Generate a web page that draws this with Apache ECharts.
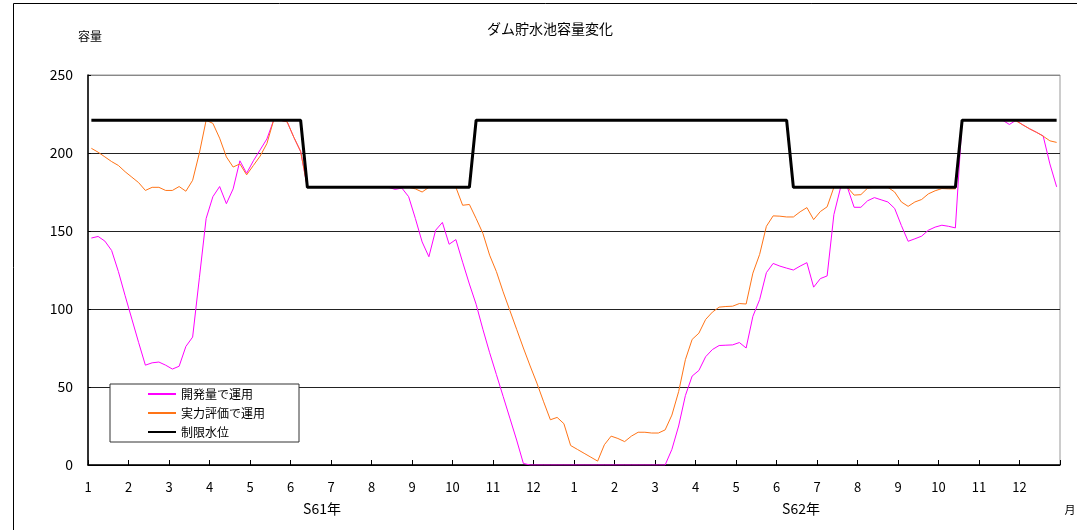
<!DOCTYPE html>
<html>
<head>
<meta charset="utf-8">
<script src="https://cdn.jsdelivr.net/npm/echarts@6/dist/echarts.min.js"></script>
<style>
html,body{margin:0;padding:0;background:#fff;}
#chart{width:1077px;height:530px;}
</style>
</head>
<body>
<div id="chart"></div>
<script>
// 5-day (半旬) periods: 6 per month, 24 months (S61 Jan - S62 Dec)
const monthLabels = ['1','2','3','4','5','6','7','8','9','10','11','12','1','2','3','4','5','6','7','8','9','10','11','12'];
const yearLabels = ['S61年', 'S62年'];
const seriesNames = ['開発量で運用', '実力評価で運用', '制限水位'];

const kaihatsu = [
  145.5,146.5,143.5,137.5,124,108.5,93.5,78.5,64,65.5,66,64,61.5,63.3,76,82,
  120,158,172,178.5,167.5,177,195,187,195,202,209,221,221,220,210,201,
  178,178,178,178,178,178,178,178,178,178,178,178,178,176.7,177.5,172,
  158,143,133.5,150.5,155.5,141.5,144.5,130,116,103,87,72,58,44,30,16,
  1,0,0,0,0,0,0,0,0,0,0,0,0,0,0,0,0,0,0,0,0,0,
  10,25,44.5,57,60.6,69.4,74,76.6,76.8,77,78.5,75,95.3,106,123.3,129.2,
  127.5,126.2,125,127.5,129.7,114,119.5,121.2,160.5,178,178,165.2,165.2,169.4,171.4,170,
  168.6,164.5,153.5,143.4,145,146.7,150.5,152.5,153.7,153,152,
  221,221,221,221,221,221,221,218.3,221,218,215.5,213.3,211,193,178.3
];

const jitsuryoku = [
  203,200.5,197.5,194.5,192,188,184.5,181,176,178,178,176,176,178.5,175.5,182.5,
  200,221,219,209.5,197.5,191,193,186,192,198,206,221,221,220,210,201,
  178,178,178,178,178,178,178,178,178,178,178,178,178,178,178,178,
  177,175,178,178,178,178,178,166.5,167,158,148.5,134.5,124,111,99,87,
  75,63.5,52.5,40.5,29,30.5,26.5,12.5,10,7.5,5,2.5,13,18.5,17,15,18.5,21,21,20.5,20.5,22.5,
  32,47,67.5,80.5,84.5,93.3,98,101.2,101.6,101.8,103.5,103.2,123,135,153,159.7,
  159.5,159,159,162.3,165,157.3,162.5,165.5,178,178,178,173,173.3,177.5,178,178,
  178,175,168.6,165.8,168.6,170.2,173.8,175.8,177.2,177,177,
  221,221,221,221,221,221,221,221,220.5,218,215.5,213.3,210.8,207.8,206.8
];

const seigen = [
  221,221,221,221,221,221,221,221,221,221,221,221,221,221,221,221,
  221,221,221,221,221,221,221,221,221,221,221,221,221,221,221,221,
  178,178,178,178,178,178,178,178,178,178,178,178,178,178,178,178,
  178,178,178,178,178,178,178,178,178,221,221,221,221,221,221,221,
  221,221,221,221,221,221,221,221,221,221,221,221,221,221,221,221,221,221,221,221,221,221,
  221,221,221,221,221,221,221,221,221,221,221,221,221,221,221,221,
  221,221,178,178,178,178,178,178,178,178,178,178,178,178,178,178,
  178,178,178,178,178,178,178,178,178,178,178,
  221,221,221,221,221,221,221,221,221,221,221,221,221,221,221
];

const yTicks = { min: 0, max: 250, interval: 50 };

function toXY(arr) { return arr.map((v, i) => [(i + 0.5) / 6, v]); }

const FONT = '"Noto Sans CJK JP", "Noto Sans", sans-serif';
const chart = echarts.init(document.getElementById('chart'), null, { renderer: 'canvas' });

chart.setOption({
  animation: false,
  backgroundColor: '#fff',
  textStyle: { fontFamily: FONT, color: '#000' },
  title: {
    text: 'ダム貯水池容量変化',
    left: 545, top: 17, textAlign: 'center',
    textStyle: { fontFamily: FONT, fontSize: 14, fontWeight: 'normal', color: '#000' }
  },
  grid: { left: 88, right: 17, top: 75, bottom: 65, show: true, borderColor: '#999', borderWidth: 1 },
  legend: {
    orient: 'vertical',
    left: 110, top: 384,
    padding: [4, 34, 4, 37],
    itemWidth: 28, itemHeight: 14, itemGap: 7,
    backgroundColor: '#fff',
    borderColor: '#333', borderWidth: 1,
    itemStyle: { opacity: 0 },
    textStyle: { fontFamily: FONT, fontSize: 12, color: '#000' },
    data: seriesNames
  },
  xAxis: {
    type: 'value', min: 0, max: 24, interval: 1,
    axisLine: { show: true, onZero: false, lineStyle: { color: '#000', width: 1.5 } },
    axisTick: { show: true, inside: true, length: 5, lineStyle: { color: '#000' } },
    axisLabel: {
      margin: 16, fontSize: 13, color: '#000', fontFamily: FONT,
      formatter: v => (v < 24 ? monthLabels[v] : '')
    },
    splitLine: { show: false }
  },
  yAxis: {
    type: 'value', min: yTicks.min, max: yTicks.max, interval: yTicks.interval,
    axisLine: { show: true, lineStyle: { color: '#000', width: 1.5 } },
    axisTick: { show: true, inside: true, length: 3, lineStyle: { color: '#000' } },
    axisLabel: { margin: 15, fontSize: 14, color: '#000', fontFamily: FONT },
    splitLine: { show: true, lineStyle: { color: ['#000', '#222', '#222', '#222', '#222', '#888'], width: 1 } }
  },
  graphic: [
    { type: 'rect', shape: { x: 13.5, y: 3.5, width: 1100, height: 600 }, style: { fill: 'none', stroke: '#000', lineWidth: 1 }, silent: true, z: 100 },
    { type: 'text', left: 78, top: 30, style: { text: '容量', fontSize: 12, fontFamily: FONT, fill: '#000' } },
    { type: 'text', x: 322, y: 509, style: { text: yearLabels[0], fontSize: 14, fontFamily: FONT, fill: '#000', textAlign: 'center', textVerticalAlign: 'middle' } },
    { type: 'text', x: 801, y: 509, style: { text: yearLabels[1], fontSize: 14, fontFamily: FONT, fill: '#000', textAlign: 'center', textVerticalAlign: 'middle' } },
    { type: 'text', x: 1070, y: 510, style: { text: '月', fontSize: 11, fontFamily: FONT, fill: '#000', textAlign: 'center', textVerticalAlign: 'middle' } }
  ],
  series: [
    { name: seriesNames[0], type: 'line', data: toXY(kaihatsu), symbol: 'none', lineStyle: { color: '#FF00FF', width: 1 }, itemStyle: { color: '#FF00FF' } },
    { name: seriesNames[1], type: 'line', data: toXY(jitsuryoku), symbol: 'none', lineStyle: { color: '#FF7417', width: 1 }, itemStyle: { color: '#FF7417' } },
    { name: seriesNames[2], type: 'line', data: toXY(seigen), symbol: 'none', lineStyle: { color: '#000', width: 3 }, itemStyle: { color: '#000' } }
  ]
});
</script>
</body>
</html>
